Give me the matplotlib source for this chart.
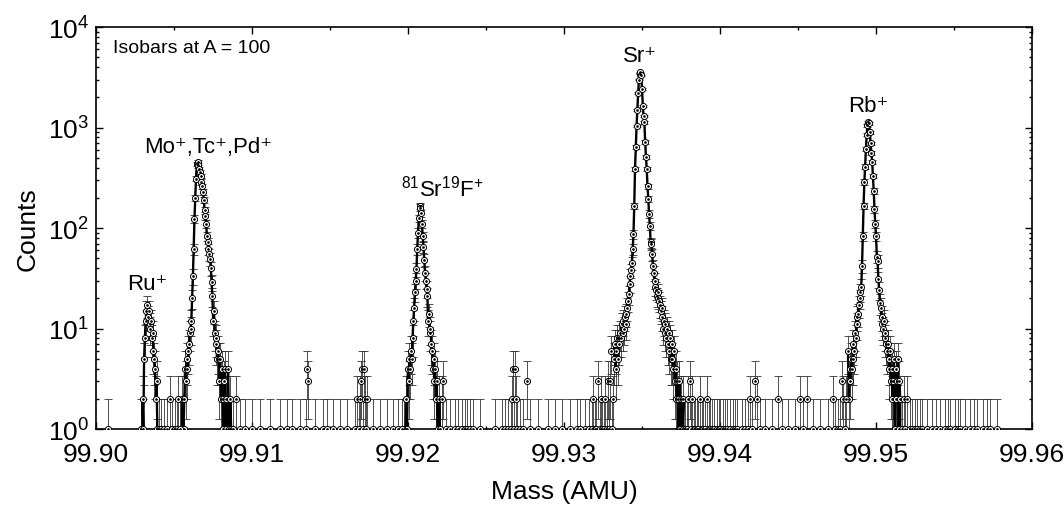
import numpy as np
import matplotlib
matplotlib.use('Agg')
import matplotlib.pyplot as plt
from matplotlib.ticker import MultipleLocator, FormatStrFormatter, LogLocator

plt.rcParams['font.family'] = ['Liberation Sans', 'DejaVu Sans']
plt.rcParams['mathtext.fontset'] = 'custom'
plt.rcParams['mathtext.rm'] = 'Liberation Sans'
plt.rcParams['mathtext.it'] = 'Liberation Sans:italic'

# bin width of the mass spectrum (AMU)
bin_width = 5e-5

# peak regions: start mass and counts in consecutive bins
ru_start = 99.902885
ru_counts = [1, 0, 2, 1, 5, 8, 12, 15, 17, 13, 15, 11, 10, 12, 8, 9, 6, 5, 4, 2,
             3, 1, 0, 1]

mo_start = 99.905513
mo_counts = [2, 0, 1, 2, 4, 3, 5, 4, 6, 7, 9, 10, 12, 20, 33, 62, 123, 200, 310,
             435, 450, 420, 390, 360, 330, 288, 260, 229, 190, 150, 132, 110, 83,
             72, 62, 55, 49, 40, 29, 21, 12, 15, 9, 7, 8, 5, 6, 5, 3, 5, 2, 4, 2,
             1, 3, 4, 1, 2, 0, 4, 1, 0, 2, 1]

srf_start = 99.919744
srf_counts = [1, 0, 1, 2, 1, 4, 3, 5, 4, 6, 5, 8, 12, 16, 23, 30, 39, 62, 90, 125,
              166, 160, 140, 110, 83, 65, 48, 36, 30, 25, 21, 12, 14, 9, 10, 7, 6,
              4, 5, 3, 4, 2, 3, 1, 0, 2, 1]

sr_start = 99.933205
sr_counts = [5, 7, 4, 6, 8, 5, 8, 7, 9, 8, 11, 9, 12, 10, 13, 11, 14, 16, 19, 22,
             28, 33, 38, 45, 62, 87, 166, 390, 640, 1040, 1500, 2200, 3000, 3450,
             3550, 3300, 2400, 1630, 1300, 1130, 720, 510, 390, 260, 195, 138, 105,
             72, 69, 55, 42, 36, 30, 26, 24, 21, 23, 20, 19, 17, 15, 16, 13, 10,
             12, 9, 11, 8, 10, 7, 9, 6, 8, 5, 7, 5, 4, 6, 3, 4, 2, 3, 2, 1, 3, 1,
             2, 0, 1, 2, 0, 1]

rb_start = 99.948205
rb_counts = [6, 2, 4, 3, 5, 4, 5, 7, 6, 9, 8, 13, 11, 14, 17, 20, 23, 26, 42, 83,
             166, 288, 410, 610, 850, 1050, 1130, 1100, 900, 700, 560, 455, 330,
             234, 155, 110, 83, 52, 47, 31, 24, 18, 16, 13, 11, 10, 12, 8, 9, 7, 6,
             7, 5, 4, 6, 3, 4, 2, 3, 5, 1, 2, 4, 3, 5, 1, 3, 2, 0, 1]

# isolated background counts between the peaks
bg_mass = [99.90077, 99.90417, 99.90436, 99.90455, 99.90474, 99.90487, 99.90506,
           99.90519, 99.90526, 99.90538,
           99.90878, 99.90897, 99.90923, 99.90955, 99.91000, 99.91051, 99.91115,
           99.91179, 99.91224, 99.91256, 99.91308, 99.91346, 99.91353, 99.91359,
           99.91404, 99.91455, 99.91481, 99.91519, 99.91564, 99.91609, 99.91660,
           99.91673, 99.91686, 99.91692, 99.91699, 99.91705, 99.91711, 99.91718,
           99.91724, 99.91731, 99.91737, 99.91776, 99.91820, 99.91865, 99.91904,
           99.91936, 99.91961,
           99.92218, 99.92224, 99.92244, 99.92269, 99.92301, 99.92320, 99.92346,
           99.92365, 99.92378, 99.92397, 99.92417, 99.92461, 99.92558, 99.92602,
           99.92622, 99.92641, 99.92660, 99.92667, 99.92673, 99.92679, 99.92686,
           99.92692, 99.92699, 99.92718, 99.92737, 99.92763, 99.92782, 99.92833,
           99.92897, 99.92942, 99.92987, 99.93038, 99.93083, 99.93134,
           99.93102, 99.93160, 99.93179, 99.93186, 99.93199, 99.93205, 99.93218,
           99.93231, 99.93237, 99.93243, 99.93256, 99.93263, 99.93276, 99.93282,
           99.93288, 99.93295, 99.93301, 99.93308, 99.93314,
           99.93788, 99.93795, 99.93808, 99.93814, 99.93820, 99.93833, 99.93840,
           99.93852, 99.93859, 99.93872, 99.93884, 99.93891, 99.93904, 99.93917,
           99.93929, 99.93936, 99.93949, 99.93961, 99.93981, 99.93993, 99.94000,
           99.94019, 99.94032, 99.94045, 99.94064, 99.94083, 99.94096, 99.94109,
           99.94141, 99.94160, 99.94179, 99.94192, 99.94205, 99.94224, 99.94237,
           99.94256, 99.94288, 99.94333, 99.94372, 99.94397, 99.94436, 99.94481,
           99.94513, 99.94532, 99.94558, 99.94596, 99.94641, 99.94692, 99.94724,
           99.94737, 99.94756, 99.94769, 99.94782, 99.94788, 99.94801, 99.94808,
           99.95179, 99.95186, 99.95199, 99.95218, 99.95231, 99.95250, 99.95263,
           99.95282, 99.95295, 99.95327, 99.95359, 99.95384, 99.95410, 99.95442,
           99.95461, 99.95474, 99.95506, 99.95525, 99.95538, 99.95570, 99.95602,
           99.95628, 99.95647, 99.95686, 99.95711, 99.95731, 99.95775]
bg_counts = [1, 1, 1, 1, 2, 1, 1, 1, 2, 1,
             1, 2, 1, 1, 1, 1, 1, 1, 1, 1, 1, 1, 4, 3, 1, 1, 1, 1, 1, 1, 1, 2, 1,
             2, 3, 4, 1, 4, 2, 1, 2, 1, 1, 1, 1, 1, 1,
             2, 3, 1, 1, 1, 1, 1, 1, 1, 1, 1, 1, 1, 1, 1, 1, 1, 2, 4, 1, 4, 2, 1,
             1, 1, 3, 1, 1, 1, 1, 1, 1, 1, 1,
             1, 1, 1, 2, 1, 1, 3, 1, 2, 1, 1, 2, 1, 3, 1, 3, 6, 1, 2,
             1, 2, 3, 1, 2, 1, 1, 1, 1, 2, 1, 1, 1, 2, 1, 1, 1, 1, 1, 1, 1, 1, 1,
             1, 1, 1, 1, 1, 1, 1, 1, 2, 1, 3, 2, 1, 1, 1, 2, 1, 1, 1, 2, 1, 2, 1,
             1, 1, 2, 1, 1, 1, 3, 2, 1, 2,
             2, 1, 2, 1, 1, 1, 1, 1, 1, 1, 1, 1, 1, 1, 1, 1, 1, 1, 1, 1, 1, 1, 1,
             1, 1, 1, 1]

peaks = [(ru_start, ru_counts), (mo_start, mo_counts), (srf_start, srf_counts),
         (sr_start, sr_counts), (rb_start, rb_counts)]

fig = plt.figure(figsize=(10.64, 5.06), dpi=100)
ax = fig.add_axes([0.0902, 0.150, 0.8797, 0.7945])
ax.set_yscale('log')

all_m = []
all_c = []
for start, counts in peaks:
    c = np.array(counts, dtype=float)
    m = start + bin_width * np.arange(len(c))
    ax.plot(m, c, color='black', lw=1.7, zorder=3)
    all_m.extend(m[c > 0])
    all_c.extend(c[c > 0])
all_m.extend(bg_mass)
all_c.extend(bg_counts)
all_m = np.array(all_m)
all_c = np.array(all_c, dtype=float)

err = np.sqrt(all_c)
lower = np.minimum(err, all_c - 1e-3)
ax.errorbar(all_m, all_c, yerr=[lower, err], fmt='none', ecolor='0.2',
            elinewidth=0.6, capsize=2.8, capthick=0.6, zorder=2)
ax.plot(all_m, all_c, ls='none', marker='o', ms=4.4, mfc='white',
        mec='black', mew=0.7, zorder=4)
ax.plot(all_m, all_c, ls='none', marker='o', ms=0.9, color='black', zorder=5)

ax.set_xlim(99.90, 99.96)
ax.set_ylim(1, 1e4)
ax.xaxis.set_major_locator(MultipleLocator(0.01))
ax.xaxis.set_minor_locator(MultipleLocator(0.005))
ax.xaxis.set_major_formatter(FormatStrFormatter('%.2f'))
ax.yaxis.set_major_locator(LogLocator(base=10, numticks=10))
ax.yaxis.set_minor_locator(LogLocator(base=10, subs=np.arange(2, 10), numticks=20))
ax.tick_params(which='both', direction='in', top=True, right=True, width=1.0)
ax.tick_params(which='major', length=5, labelsize=19)
ax.tick_params(axis='x', which='major', pad=9)
ax.tick_params(axis='y', which='major', pad=5)
ax.tick_params(which='minor', length=2.5)
for s in ax.spines.values():
    s.set_linewidth(1.2)

ax.set_xlabel('Mass (AMU)', fontsize=19, labelpad=10)
ax.set_ylabel('Counts', fontsize=19, labelpad=6)

ax.text(0.018, 0.948, 'Isobars at A = 100', transform=ax.transAxes,
        fontsize=14, va='center', ha='left')
ax.text(99.90718, 655, 'Mo\u207a,Tc\u207a,Pd\u207a', fontsize=16, ha='center', va='center')
ax.text(99.90327, 28.4, 'Ru\u207a', fontsize=16, ha='center', va='center')
ax.text(99.92218, 256, r'$^{81}$Sr$^{19}$F$^{+}$', fontsize=16, ha='center', va='center')
ax.text(99.93487, 5250, 'Sr\u207a', fontsize=16, ha='center', va='center')
ax.text(99.94949, 1675, 'Rb\u207a', fontsize=16, ha='center', va='center')

fig.savefig('out.png', dpi=100)
